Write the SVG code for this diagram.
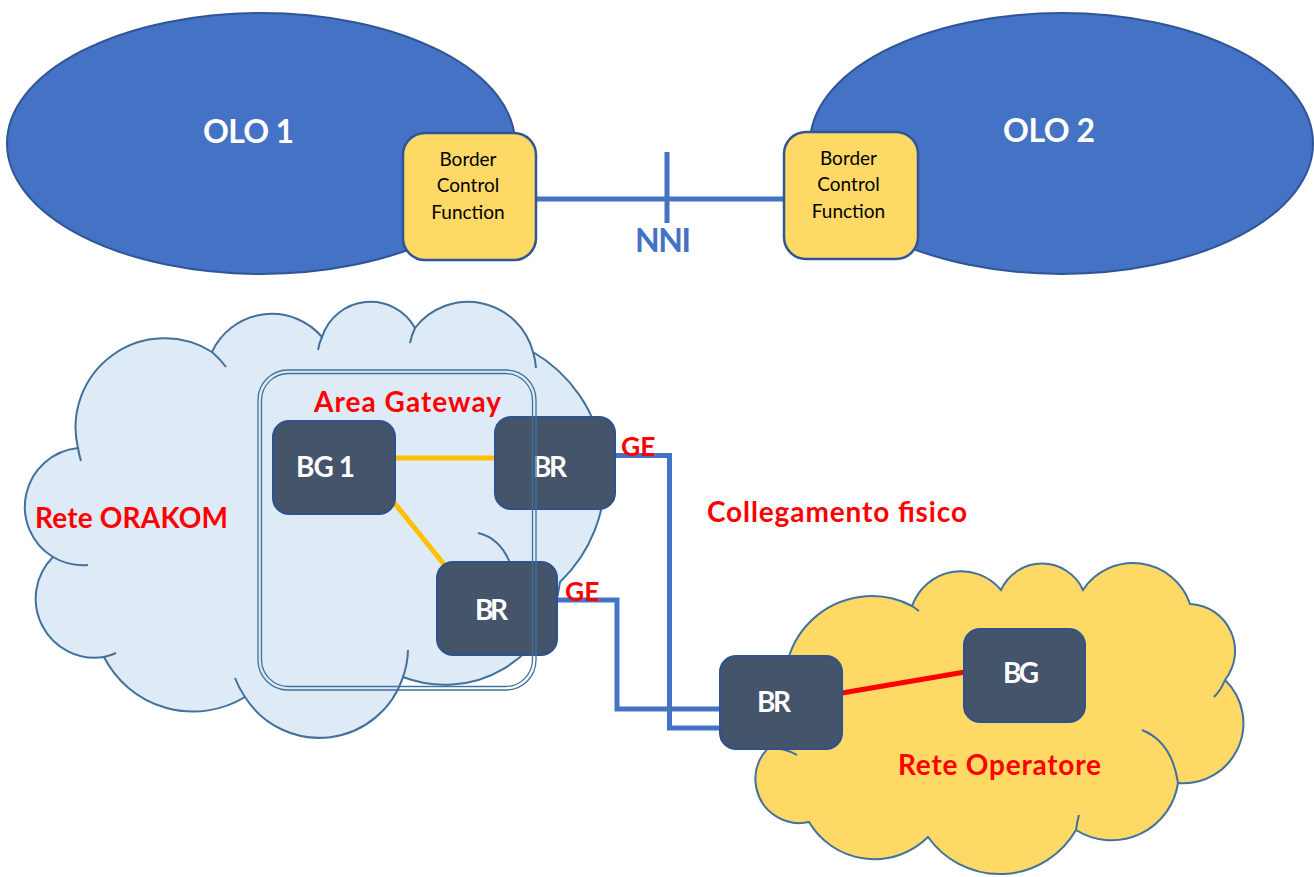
<svg xmlns="http://www.w3.org/2000/svg" width="1314" height="877" viewBox="0 0 1314 877">
<style>
.olo{fill:#4472C4;stroke:#2F5597;stroke-width:2}
.bcf{fill:#FFD966;stroke:#2F5597;stroke-width:2.5}
.bcft{font-family:Lato,'Liberation Sans',sans-serif;font-size:19px;fill:#000;text-anchor:middle}
.big{font-family:Lato,'Liberation Sans',sans-serif;font-weight:bold;font-size:32px}
.lbl{font-family:Lato,'Liberation Sans',sans-serif;font-weight:bold;font-size:28px;fill:#FF0000}
.ge{font-family:Lato,'Liberation Sans',sans-serif;font-weight:bold;font-size:26.5px;fill:#FF0000}
.node{fill:#44546A;stroke:#2F528F;stroke-width:2}
.nt{font-family:Lato,'Liberation Sans',sans-serif;font-weight:bold;font-size:28px;fill:#FFFFFF}
.cloudline{fill:none;stroke:#41719C;stroke-width:2}
.frame{fill:none;stroke:#41719C;stroke-width:1.3}
.blue{fill:none;stroke:#4472C4;stroke-width:5}
</style>

<g id="olo1">
<ellipse class="olo" cx="261" cy="143.5" rx="254" ry="130.5"/>
<text class="big" x="203" y="143" fill="#FFFFFF" textLength="91" lengthAdjust="spacing">OLO 1</text>
</g>
<g id="olo2">
<ellipse class="olo" cx="1061.5" cy="143.5" rx="251.5" ry="130.5"/>
<text class="big" x="1003" y="142" fill="#FFFFFF" textLength="92" lengthAdjust="spacing">OLO 2</text>
</g>

<g id="cloud-orakom">
<path fill="#DEEBF7" stroke="none" d="M78,448 A89,89 0 0,1 212,352 A66,66 0 0,1 322,337 A51,51 0 0,1 415,328 A67,67 0 0,1 533,352 A145,145 0 0,1 560,582 A116,116 0 0,1 403,677 A88,88 0 0,1 245,697 A100,100 0 0,1 104,657 A59,59 0 0,1 53,557 A59,59 0 0,1 78,448 Z"/>
<path class="cloudline" d="M78,448 A89,89 0 0,1 212,352 A66,66 0 0,1 322,337 A51,51 0 0,1 415,328 A67,67 0 0,1 533,352 A145,145 0 0,1 560,582 A116,116 0 0,1 403,677 A88,88 0 0,1 245,697 A100,100 0 0,1 104,657 A59,59 0 0,1 53,557 A59,59 0 0,1 78,448 Z"/>
<path class="cloudline" d="M81,461 A89,89 0 0,1 78,448 M212,352 A89,89 0 0,1 226,367 M318,350 A51,51 0 0,1 322,337 M410,343 A67,67 0 0,1 415,328 M533,352 A67,67 0 0,1 536,368 M478,533 Q500,538 510,563 M408,650 A88,88 0 0,1 403,677 M245,697 A88,88 0 0,1 235,678 M116,653 A59,59 0 0,1 104,657 M88,565 A59,59 0 0,1 53,557"/>
<text class="lbl" x="35" y="528" textLength="193" lengthAdjust="spacing">Rete ORAKOM</text>
</g>

<g id="cloud-operatore">
<path fill="#FFD966" stroke="none" d="M793,720 A87,87 0 0,1 912,606 A52,52 0 0,1 1001,590 A45,45 0 0,1 1083,590 A60,60 0 0,1 1190,604 A47,47 0 0,1 1225,680 A60,60 0 0,1 1178,783 A67,67 0 0,1 1076,830 A88,88 0 0,1 928,837 A76,76 0 0,1 809,822 A44,44 0 1,1 790,736 Z"/>
<path class="cloudline" d="M793,720 A87,87 0 0,1 912,606 A52,52 0 0,1 1001,590 A45,45 0 0,1 1083,590 A60,60 0 0,1 1190,604 A47,47 0 0,1 1225,680 A60,60 0 0,1 1178,783 A67,67 0 0,1 1076,830 A88,88 0 0,1 928,837 A76,76 0 0,1 809,822 A44,44 0 1,1 790,736 Z"/>
<path class="cloudline" d="M912,606 A87,87 0 0,1 919,611 M1225,680 Q1221,690 1214,697 M1142,730 Q1172,742 1178,783 M1079,815 Q1077,822 1076,830 M770,748 Q785,748 797,755"/>
<text class="lbl" x="898" y="775" textLength="203" lengthAdjust="spacing">Rete Operatore</text>
</g>

<g id="connectors">
<line class="blue" x1="535" y1="199" x2="785" y2="199"/>
<line class="blue" x1="667" y1="152" x2="667" y2="223"/>
<line x1="396" y1="458" x2="495" y2="458" stroke="#FFC000" stroke-width="5"/>
<line x1="392" y1="500" x2="451" y2="573" stroke="#FFC000" stroke-width="5"/>
<line x1="842" y1="693" x2="965" y2="672" stroke="#FF0000" stroke-width="5"/>
<path class="blue" d="M614,455.5 H669.5 V728 H721"/>
<path class="blue" d="M556,600 H617 V709 H721"/>
<text class="big" x="635" y="252" fill="#4472C4" textLength="56" lengthAdjust="spacing">NNI</text>
<text class="ge" x="621" y="456">GE</text>
<text class="ge" x="565" y="601">GE</text>
<text class="lbl" x="707" y="522" textLength="260" lengthAdjust="spacing">Collegamento fisico</text>
</g>

<g id="bcf1">
<rect class="bcf" x="403" y="133" width="133" height="127" rx="22"/>
<text class="bcft" x="468" y="166">Border</text>
<text class="bcft" x="468" y="192">Control</text>
<text class="bcft" x="468" y="219">Function</text>
</g>
<g id="bcf2">
<rect class="bcf" x="784" y="132" width="134" height="127" rx="22"/>
<text class="bcft" x="848.5" y="165">Border</text>
<text class="bcft" x="848.5" y="191">Control</text>
<text class="bcft" x="848.5" y="217.5">Function</text>
</g>

<g id="bg1">
<rect class="node" x="273" y="421" width="122" height="93" rx="16"/>
<text class="nt" x="296" y="477" textLength="59" lengthAdjust="spacing">BG 1</text>
</g>
<g id="br-upper">
<rect class="node" x="495" y="417" width="120" height="92" rx="16"/>
<text class="nt" x="533" y="477" textLength="34" lengthAdjust="spacing">BR</text>
</g>
<g id="br-lower">
<rect class="node" x="437" y="562" width="120" height="93" rx="16"/>
<text class="nt" x="475" y="620" textLength="33" lengthAdjust="spacing">BR</text>
</g>
<g id="br-operatore">
<rect class="node" x="720" y="656" width="122" height="93" rx="16"/>
<text class="nt" x="757" y="712" textLength="34" lengthAdjust="spacing">BR</text>
</g>
<g id="bg-operatore">
<rect class="node" x="964" y="629" width="121" height="93" rx="16"/>
<text class="nt" x="1003" y="683" textLength="36" lengthAdjust="spacing">BG</text>
</g>

<g id="area-gateway">
<rect class="frame" x="258" y="370" width="278" height="320" rx="30"/>
<rect class="frame" x="261.5" y="373.5" width="271" height="313" rx="27"/>
<text class="lbl" x="314" y="412" textLength="187" lengthAdjust="spacing">Area Gateway</text>
</g>
</svg>
